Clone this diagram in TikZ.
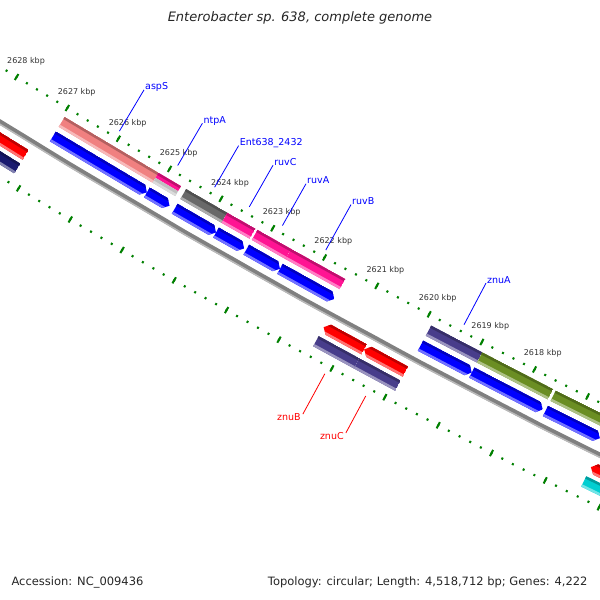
\documentclass[tikz,border=0pt]{standalone}
\usepackage{fontspec}
\setmainfont{DejaVu Sans}
\usetikzlibrary{positioning}

\definecolor{geneblue}{RGB}{0,0,255}
\definecolor{genered}{RGB}{255,0,0}
\definecolor{cogcoral}{RGB}{240,128,128}
\definecolor{cogpink}{RGB}{255,20,147}
\definecolor{cogsilver}{RGB}{192,192,192}
\definecolor{cogdim}{RGB}{105,105,105}
\definecolor{cogslate}{RGB}{72,61,139}
\definecolor{cogolive}{RGB}{107,142,35}
\definecolor{cognavy}{RGB}{25,25,112}
\definecolor{cogcyan}{RGB}{0,206,209}
\definecolor{tickgreen}{RGB}{0,128,0}

% angle (deg) of a genome position given in kbp
\pgfmathdeclarefunction{kang}{1}{\pgfmathparse{240.77+(2622.5-#1)*0.445}}

% ring pieces: r in, r out, kbp left, kbp right
\newcommand{\ringbox}[4]{({kang(#3)}:{#1}) -- ({kang(#4)}:{#1}) -- ({kang(#4)}:{#2}) -- ({kang(#3)}:{#2}) -- cycle}
\newcommand{\ringright}[4]{({kang(#3)}:{#1}) -- ({kang(#4+0.09)}:{#1}) -- ({kang(#4)}:{(#1+#2)/2}) -- ({kang(#4+0.09)}:{#2}) -- ({kang(#3)}:{#2}) -- cycle}
\newcommand{\ringleft}[4]{({kang(#3)}:{(#1+#2)/2}) -- ({kang(#3-0.09)}:{#1}) -- ({kang(#4)}:{#1}) -- ({kang(#4)}:{#2}) -- ({kang(#3-0.09)}:{#2}) -- cycle}

\newcommand{\genefeat}[6]{%
  \begin{scope}
    \clip #1{#2}{#3}{#4}{#5};
    \fill[#6] \ringbox{#2}{#3}{#4}{#5};
    \fill[#6!75!black] \ringbox{#2}{#2+2.5}{#4}{#5};
    \fill[#6!55!white] \ringbox{#3-2.5}{#3}{#4}{#5};
  \end{scope}}

\tikzset{
  titletext/.style = {font=\fontsize{13}{15}\selectfont\itshape, text=black!85},
  infotext/.style = {font=\fontsize{11.5}{13}\selectfont, text=black!85},
  rulerlabel/.style = {font=\fontsize{8}{9}\selectfont, text=black!80, inner sep=0pt},
  revlabel/.style = {anchor=base west, font=\fontsize{9.5}{11}\selectfont, text=geneblue, inner sep=0pt, xshift=1pt},
  fwdlabel/.style = {anchor=north east, font=\fontsize{9.5}{11}\selectfont, text=genered, inner sep=0pt, xshift=-2pt, yshift=1pt},
  revline/.style = {geneblue, line width=0.8pt},
  fwdline/.style = {genered, line width=0.8pt},
  majortick/.style = {tickgreen, line width=2pt},
  minortick/.style = {tickgreen, line width=2pt},
  backbone/.style = {line width=5pt, color=gray},
}

\begin{document}
\begin{tikzpicture}[x=1pt, y=1pt]
  \useasboundingbox (0,0) rectangle (600,600);
  \fill[white] (0,0) rectangle (600,600);

  \node[titletext] (title) at (300,582) {Enterobacter sp. 638, complete genome};
  \node[infotext, anchor=west] (accession) at (8,17.5) {Accession: NC\_009436};
  \node[infotext, anchor=east] (topology) at (591,17.5) {Topology: circular; Length: 4,518,712 bp; Genes: 4,222};

  \begin{scope}
  \clip (0,0) rectangle (600,600);
  \begin{scope}[shift={(4039,7041.5)}]
    % rulers
    \foreach \r in {7660,7754} {
      \foreach \p in {2614,...,2630}
        \draw[majortick] ({kang(\p)}:{\r-3.5}) -- ({kang(\p)}:{\r+3.5});
      \foreach \p in {2614.2,2614.4,...,2630}
        \draw[minortick] ({kang(\p)}:{\r-1.1}) -- ({kang(\p)}:{\r+1.1});
    }
    \foreach \p in {2618,...,2628}
      \node[rulerlabel] (kbp\p) at ({kang(\p)}:7642) {\p~kbp};

    % backbone
    \draw[backbone] plot[domain=2613:2631, samples=41] ({kang(\x)}:7707);
    \draw[gray!55, line width=1.5pt] plot[domain=2613:2631, samples=41] ({kang(\x)}:7709);

    % reverse strand
    \genefeat{\ringright}{7686}{7697.5}{2626.96}{2625.13}{geneblue}
    \genefeat{\ringright}{7686}{7697.5}{2625.13}{2624.69}{geneblue}
    \genefeat{\ringright}{7686}{7697.5}{2624.59}{2623.79}{geneblue}
    \genefeat{\ringright}{7686}{7697.5}{2623.79}{2623.25}{geneblue}
    \genefeat{\ringright}{7686}{7697.5}{2623.21}{2622.56}{geneblue}
    \genefeat{\ringright}{7686}{7697.5}{2622.56}{2621.52}{geneblue}
    \genefeat{\ringright}{7686}{7697.5}{2619.88}{2618.91}{geneblue}
    \genefeat{\ringright}{7686}{7697.5}{2618.91}{2617.57}{geneblue}
    \genefeat{\ringright}{7686}{7697.5}{2617.52}{2616.50}{geneblue}

    \genefeat{\ringbox}{7669}{7680.5}{2626.96}{2625.13}{cogcoral}
    \fill[cogpink] \ringbox{7669}{7674.75}{2625.13}{2624.69};
    \fill[cogpink!75!black] \ringbox{7669}{7671.5}{2625.13}{2624.69};
    \fill[cogsilver] \ringbox{7674.75}{7680.5}{2625.13}{2624.69};
    \fill[cogsilver!55!white] \ringbox{7678}{7680.5}{2625.13}{2624.69};
    \genefeat{\ringbox}{7669}{7680.5}{2624.59}{2623.79}{cogdim}
    \genefeat{\ringbox}{7669}{7680.5}{2623.79}{2623.25}{cogpink}
    \genefeat{\ringbox}{7669}{7680.5}{2623.21}{2622.56}{cogpink}
    \genefeat{\ringbox}{7669}{7680.5}{2622.56}{2621.52}{cogpink}
    \genefeat{\ringbox}{7669}{7680.5}{2619.88}{2618.91}{cogslate}
    \genefeat{\ringbox}{7669}{7680.5}{2618.91}{2617.57}{cogolive}
    \genefeat{\ringbox}{7669}{7680.5}{2617.52}{2616.20}{cogolive}

    % forward strand
    \genefeat{\ringbox}{7716}{7727.5}{2629.50}{2627.19}{genered}
    \genefeat{\ringleft}{7716}{7727.5}{2621.45}{2620.68}{genered}
    \genefeat{\ringleft}{7716}{7727.5}{2620.68}{2619.90}{genered}
    \genefeat{\ringleft}{7716}{7727.5}{2616.42}{2614.00}{genered}

    \genefeat{\ringbox}{7732}{7743.5}{2629.50}{2627.19}{cognavy}
    \genefeat{\ringbox}{7732}{7743.5}{2621.45}{2620.68}{cogslate}
    \genefeat{\ringbox}{7732}{7743.5}{2620.68}{2619.90}{cogslate}
    \genefeat{\ringbox}{7732}{7743.5}{2616.42}{2614.00}{cogcyan}

    % gene labels
    \foreach \id/\txt/\p/\len in {asps/aspS/2626.05/48, ntpa/ntpA/2624.91/49,
        ent/Ent638\_2432/2624.19/48, ruvc/ruvC/2623.52/48, ruva/ruvA/2622.88/48,
        ruvb/ruvB/2622.04/52, znua/znuA/2619.40/47} {
      \coordinate (\id-in) at ({kang(\p)}:7653);
      \coordinate (\id-out) at ({kang(\p)}:{7653-\len});
      \draw[revline] (\id-in) -- (\id-out);
      \node[revlabel] (\id) at (\id-out) {\txt};
    }
    \foreach \id/\txt/\p/\len in {znub/znuB/2621.06/46, znuc/znuC/2620.29/42} {
      \coordinate (\id-in) at ({kang(\p)}:7762);
      \coordinate (\id-out) at ({kang(\p)}:{7762+\len});
      \draw[fwdline] (\id-in) -- (\id-out);
      \node[fwdlabel] (\id) at (\id-out) {\txt};
    }
  \end{scope}
  \end{scope}
\end{tikzpicture}
\end{document}
